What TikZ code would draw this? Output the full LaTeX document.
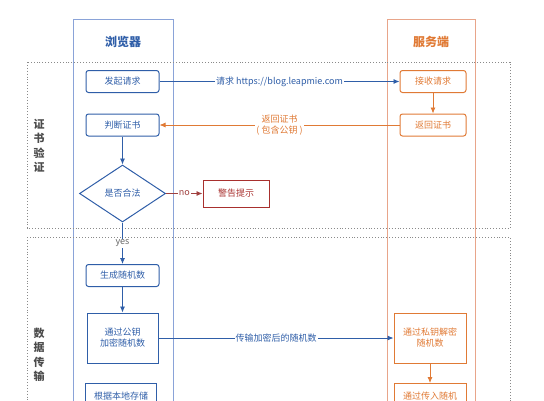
\documentclass[tikz,border=0pt]{standalone}
\usepackage{fontspec}
\setmainfont{Noto Sans CJK SC}
\usetikzlibrary{arrows.meta,shapes.geometric}
\definecolor{bblue}{HTML}{2F5EA8}
\definecolor{blane}{HTML}{8AA3D8}
\definecolor{sorange}{HTML}{E07A35}
\definecolor{slane}{HTML}{E8A58A}
\definecolor{wred}{HTML}{A8302E}
\definecolor{secgray}{HTML}{8A8A8A}

\begin{document}
\begin{tikzpicture}[x=1pt, y=-1pt,
    font=\fontsize{9}{11}\selectfont,
    lane/.style={line width=1pt},
    sect/.style={draw=secgray, dotted, line width=0.9pt},
    bstep/.style={draw=bblue, line width=1pt, text=bblue, rounded corners=2.5pt,
        minimum width=73pt, minimum height=22pt, inner sep=0pt},
    sstep/.style={draw=sorange, line width=1pt, text=sorange, rounded corners=2.5pt,
        minimum width=66pt, minimum height=22pt, inner sep=0pt},
    bbox/.style={draw=bblue, line width=1pt, text=bblue, align=center,
        minimum width=71pt, minimum height=50pt, inner sep=0pt},
    sbox/.style={draw=sorange, line width=1pt, text=sorange, align=center,
        minimum width=72pt, minimum height=50pt, inner sep=0pt},
    barrow/.style={draw=bblue, line width=0.8pt, -{Latex[length=6pt,width=5pt]}},
    sarrow/.style={draw=sorange, line width=0.8pt, -{Latex[length=6pt,width=5pt]}},
    lbl/.style={fill=white, inner sep=1pt, align=center}]
    \path[clip] (0,0) rectangle (544,400);

    % lanes
    \draw[lane, draw=blane] (73,19) rectangle (173,430);
    \draw[lane, draw=slane] (387,19) rectangle (475,430);
    \node[text=bblue, font=\fontsize{12}{14}\selectfont\bfseries] (browser) at (123,42) {浏览器};
    \node[text=sorange, font=\fontsize{12}{14}\selectfont\bfseries] (server) at (431,42) {服务端};

    % sections
    \draw[sect] (27,62) rectangle (510,228);
    \draw[sect] (27,237) rectangle (510,430);
    \node[text=black!70, align=center, font=\fontsize{11}{14.5}\selectfont\bfseries] (verify) at (39,146) {证\\书\\验\\证};
    \node[text=black!70, align=center, font=\fontsize{11}{14.5}\selectfont\bfseries] (transfer) at (39,355) {数\\据\\传\\输};

    % browser side
    \node[bstep] (request) at (122.5,81.5) {发起请求};
    \node[bstep] (check) at (122.5,125) {判断证书};
    \node[diamond, draw=bblue, line width=1pt, text=bblue, minimum width=86pt,
        minimum height=57pt, inner sep=0pt] (valid) at (122.5,193.5) {是否合法};
    \node[bstep] (random) at (122.5,275.5) {生成随机数};
    \node[bbox] (encrypt) at (122.5,338) {通过公钥\\加密随机数};
    \node[bbox, anchor=north] (local) at (121,383) {根据本地存储\\[14pt]};
    \node[draw=wred, line width=1pt, text=wred, minimum width=66pt,
        minimum height=27pt, inner sep=0pt] (warn) at (236,193.5) {警告提示};

    % server side
    \node[sstep] (receive) at (433,81.5) {接收请求};
    \node[sstep] (reply) at (433,125) {返回证书};
    \node[sbox] (decrypt) at (430,338) {通过私钥解密\\随机数};
    \node[sbox, anchor=north] (session) at (430,383) {通过传入随机\\[14pt]};

    % connectors
    \draw[barrow] (request) -- (receive)
        node[lbl, midway, text=bblue] {请求 https://blog.leapmie.com};
    \draw[sarrow] (receive) -- (reply);
    \draw[sarrow] (reply) -- (check)
        node[lbl, midway, text=sorange] {返回证书\\( 包含公钥 )};
    \draw[barrow] (check) -- (valid);
    \draw[draw=wred!80!gray, line width=0.8pt, -{Latex[length=6pt,width=5pt]}] (valid) -- (warn)
        node[lbl, midway, text=wred!80!gray] {no};
    \draw[barrow] (valid) -- (random)
        node[lbl, midway, text=black!60] {yes};
    \draw[barrow] (random) -- (encrypt);
    \draw[barrow] (encrypt) -- (decrypt)
        node[lbl, midway, text=bblue] {传输加密后的随机数};
    \draw[sarrow] (decrypt) -- (session);
\end{tikzpicture}
\end{document}
